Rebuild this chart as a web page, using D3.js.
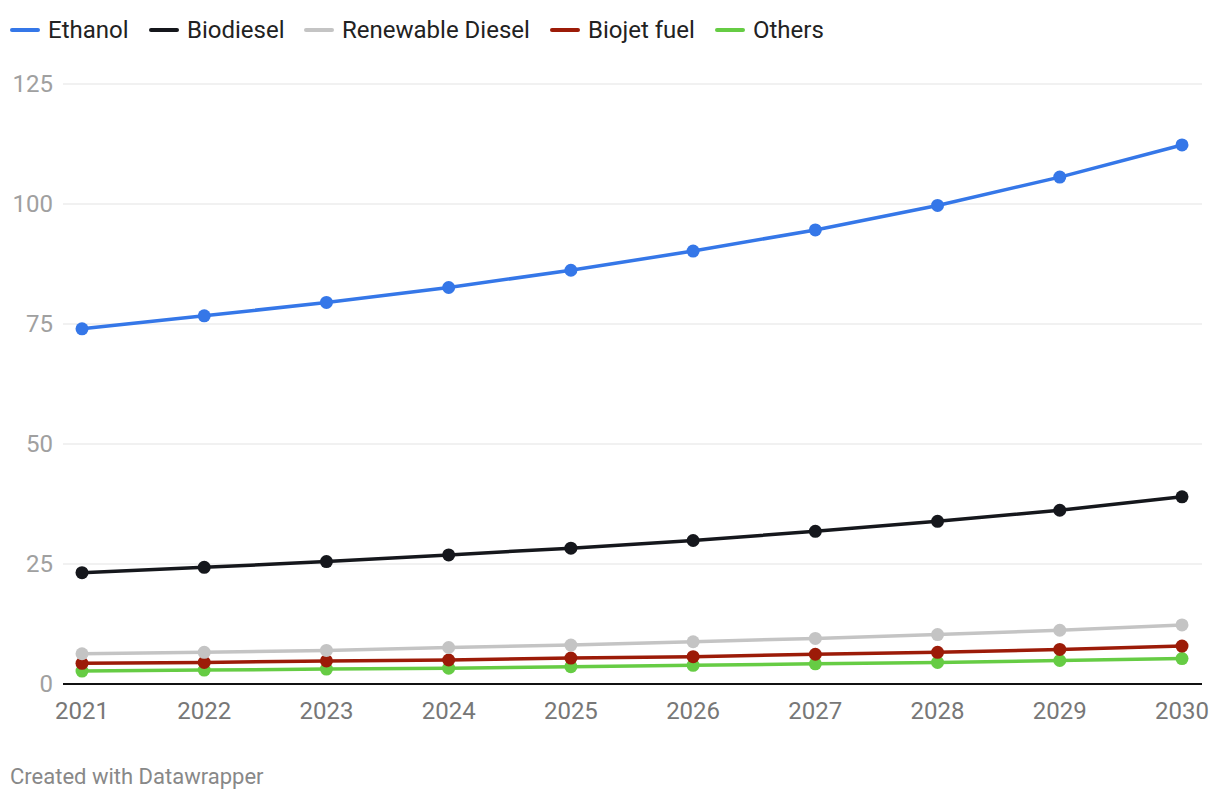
<!DOCTYPE html>
<html>
<head>
<meta charset="utf-8">
<script src="https://cdn.jsdelivr.net/npm/d3@7"></script>
<style>
  html, body { margin: 0; padding: 0; background: #fff; }
  svg { display: block; font-family: Roboto, "Noto Sans", sans-serif; }
</style>
</head>
<body>
<svg id="chart" width="1220" height="800"></svg>
<script>
const years = [2021, 2022, 2023, 2024, 2025, 2026, 2027, 2028, 2029, 2030];
const seriesNames = ["Ethanol", "Biodiesel", "Renewable Diesel", "Biojet fuel", "Others"];
const seriesColors = ["#3577e8", "#15171c", "#c4c4c4", "#9c1b08", "#66cc44"];
const ethanol = [74.0, 76.7, 79.5, 82.6, 86.2, 90.2, 94.6, 99.7, 105.6, 112.3];
const biodiesel = [23.2, 24.3, 25.5, 26.9, 28.3, 29.9, 31.8, 33.9, 36.2, 39.0];
const renewableDiesel = [6.3, 6.6, 7.0, 7.6, 8.1, 8.8, 9.5, 10.3, 11.2, 12.3];
const biojetFuel = [4.3, 4.5, 4.8, 5.0, 5.4, 5.7, 6.2, 6.6, 7.2, 7.9];
const others = [2.7, 2.9, 3.1, 3.3, 3.6, 3.9, 4.2, 4.5, 4.9, 5.3];
const yTicks = [0, 25, 50, 75, 100, 125];

const seriesValues = [ethanol, biodiesel, renewableDiesel, biojetFuel, others];
const series = seriesNames.map((name, i) => ({ name, color: seriesColors[i], values: seriesValues[i] }));

const svg = d3.select("#chart");

const x = d3.scalePoint().domain(years).range([82, 1182]);
const y = d3.scaleLinear().domain([0, 125]).range([684, 84]);

// gridlines
svg.append("g").selectAll("line").data(yTicks.filter(d => d !== 0)).join("line")
  .attr("x1", 63).attr("x2", 1202)
  .attr("y1", d => y(d)).attr("y2", d => y(d))
  .attr("stroke", "#e3e3e3").attr("stroke-width", 1.2);

// y labels
svg.append("g").selectAll("text").data(yTicks).join("text")
  .attr("x", 53).attr("y", d => y(d))
  .attr("dy", "0.35em")
  .attr("text-anchor", "end")
  .attr("fill", "#a0a0a0")
  .attr("font-size", 24)
  .text(d => d);

// x labels
svg.append("g").selectAll("text").data(years).join("text")
  .attr("x", d => x(d)).attr("y", 719)
  .attr("text-anchor", "middle")
  .attr("fill", "#777")
  .attr("font-size", 24)
  .text(d => d);

// baseline
svg.append("line")
  .attr("x1", 63).attr("x2", 1202)
  .attr("y1", y(0)).attr("y2", y(0))
  .attr("stroke", "#111").attr("stroke-width", 2);

// lines & dots (reverse order so Ethanol on top)
const line = d3.line().x((d, i) => x(years[i])).y(d => y(d));
const sg = svg.append("g").selectAll("g").data(series.slice().reverse()).join("g");
sg.append("path")
  .attr("d", d => line(d.values))
  .attr("fill", "none")
  .attr("stroke", d => d.color)
  .attr("stroke-width", 3.5)
  .attr("stroke-linejoin", "round");
sg.selectAll("circle").data(d => d.values.map((v, i) => ({ v, yr: years[i], color: d.color }))).join("circle")
  .attr("cx", d => x(d.yr)).attr("cy", d => y(d.v))
  .attr("r", 6.5).attr("fill", d => d.color);

// legend
const legendX = [12, 151, 306, 552, 717];
const lg = svg.append("g").selectAll("g").data(series).join("g")
  .attr("transform", (d, i) => `translate(${legendX[i]},30)`);
lg.append("line")
  .attr("x1", 0).attr("x2", 26).attr("y1", 0).attr("y2", 0)
  .attr("stroke", d => d.color).attr("stroke-width", 4).attr("stroke-linecap", "round");
lg.append("text")
  .attr("x", 36).attr("y", 0).attr("dy", "0.35em")
  .attr("fill", "#222").attr("font-size", 24)
  .text(d => d.name);

// footer
svg.append("text")
  .attr("x", 10).attr("y", 784)
  .attr("fill", "#888").attr("font-size", 22)
  .text("Created with Datawrapper");
</script>
</body>
</html>
